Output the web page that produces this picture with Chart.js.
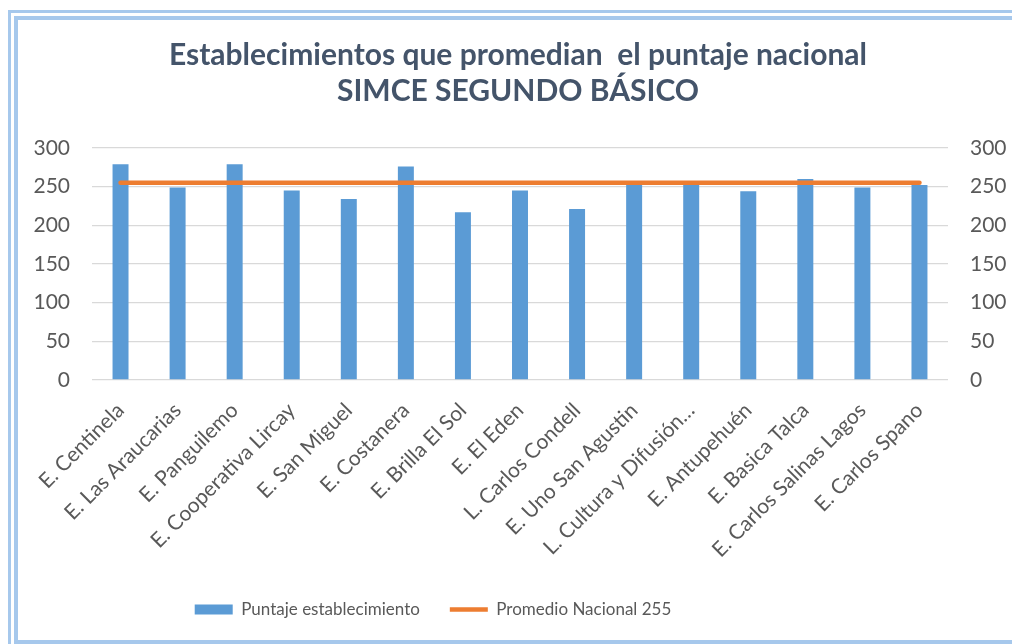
<!DOCTYPE html>
<html>
<head>
<meta charset="utf-8">
<script src="https://cdn.jsdelivr.net/npm/chart.js@4.4.0/dist/chart.umd.min.js"></script>
<style>
    html, body { margin: 0; padding: 0; background: #ffffff; overflow: hidden; }
    .frame-outer { position: absolute; left: 8px; top: 10px; width: 1100px; height: 700px; border: 3px solid #a6c8ec; box-sizing: border-box; }
    .frame-inner { position: absolute; left: 14px; top: 16px; width: 1100px; height: 628px; border: 4px solid #a6c8ec; border-right: none; box-sizing: border-box; }
    #wrap { position: absolute; left: 0; top: 0; width: 1012px; height: 644px; }
</style>
</head>
<body>
<div class="frame-outer"></div>
<div class="frame-inner"></div>
<div id="wrap"><canvas id="simceChart"></canvas></div>
<script>
// Datos
const categories = [
    'E. Centinela', 'E. Las Araucarias', 'E. Panguilemo', 'E. Cooperativa Lircay',
    'E. San Miguel', 'E. Costanera', 'E. Brilla El Sol', 'E. El Eden',
    'L. Carlos Condell', 'E. Uno San Agustin', 'L. Cultura y Difusión…',
    'E. Antupehuén', 'E. Basica Talca', 'E. Carlos Salinas Lagos', 'E. Carlos Spano'
];
const puntajeEstablecimiento = [279, 249, 279, 245, 234, 276, 217, 245, 221, 252, 252, 244, 260, 249, 252];
const promedioNacional = [255, 255, 255, 255, 255, 255, 255, 255, 255, 255, 255, 255, 255, 255, 255];
const yTicks = [0, 50, 100, 150, 200, 250, 300];

const titleLines = ['Establecimientos que promedian  el puntaje nacional', 'SIMCE SEGUNDO BÁSICO'];

const tickColor = '#595959';
const gridColor = '#d9d9d9';

// título y leyenda no están centrados en el original, se corren un poco
const shiftBoxes = {
    id: 'shiftBoxes',
    afterLayout(chart) {
        const t = chart.titleBlock, l = chart.legend;
        if (t) { t.left += 12; t.right += 12; }
        if (l) { l.left -= 73; l.right -= 73; }
    }
};

function initChart() {
    const ctx = document.getElementById('simceChart');

    const yAxis = (position, width) => ({
        position,
        min: 0,
        max: 300,
        afterBuildTicks: axis => { axis.ticks = yTicks.map(v => ({ value: v })); },
        afterFit: axis => { axis.width = width; },
        grid: { display: position === 'left', color: gridColor, lineWidth: 1.3, drawTicks: false },
        border: { display: false },
        ticks: { color: tickColor, padding: 22, font: { family: 'Lato', size: 21 } }
    });

    new Chart(ctx, {
        type: 'bar',
        data: {
            labels: categories,
            datasets: [
                {
                    label: 'Puntaje establecimiento',
                    data: puntajeEstablecimiento,
                    backgroundColor: '#5b9bd5',
                    borderWidth: 0,
                    pointStyle: 'rect',
                    categoryPercentage: 1,
                    barPercentage: 0.28,
                    yAxisID: 'y',
                    order: 1
                },
                {
                    type: 'line',
                    label: 'Promedio Nacional 255',
                    data: promedioNacional,
                    borderColor: '#ed7d31',
                    backgroundColor: '#ed7d31',
                    borderWidth: 4.5,
                    borderCapStyle: 'round',
                    pointRadius: 0,
                    pointStyle: 'line',
                    yAxisID: 'y2',
                    order: 0
                }
            ]
        },
        options: {
            responsive: true,
            maintainAspectRatio: false,
            animation: false,
            layout: { padding: { left: 0, right: 0, top: 0, bottom: 16 } },
            plugins: {
                title: {
                    display: true,
                    text: titleLines,
                    color: '#44546a',
                    font: { family: 'Lato', size: 30, weight: 'bold', lineHeight: 1.2 },
                    padding: { top: 37, bottom: 39 }
                },
                legend: {
                    position: 'bottom',
                    labels: {
                        sort: (a, b) => a.datasetIndex - b.datasetIndex,
                        usePointStyle: true,
                        pointStyleWidth: 38,
                        boxHeight: 10,
                        padding: 30,
                        color: tickColor,
                        font: { family: 'Lato', size: 17 }
                    }
                },
                tooltip: { enabled: false }
            },
            scales: {
                x: {
                    afterFit: axis => { axis.height = 191; },
                    grid: { display: false },
                    border: { display: false },
                    ticks: {
                        autoSkip: false,
                        minRotation: 45,
                        maxRotation: 45,
                        padding: 10,
                        color: tickColor,
                        font: { family: 'Lato', size: 21 }
                    }
                },
                y: yAxis('left', 92),
                y2: yAxis('right', 64)
            }
        },
        plugins: [shiftBoxes]
    });
}

if (document.readyState === 'loading') {
    document.addEventListener('DOMContentLoaded', initChart);
} else {
    initChart();
}
</script>
</body>
</html>
